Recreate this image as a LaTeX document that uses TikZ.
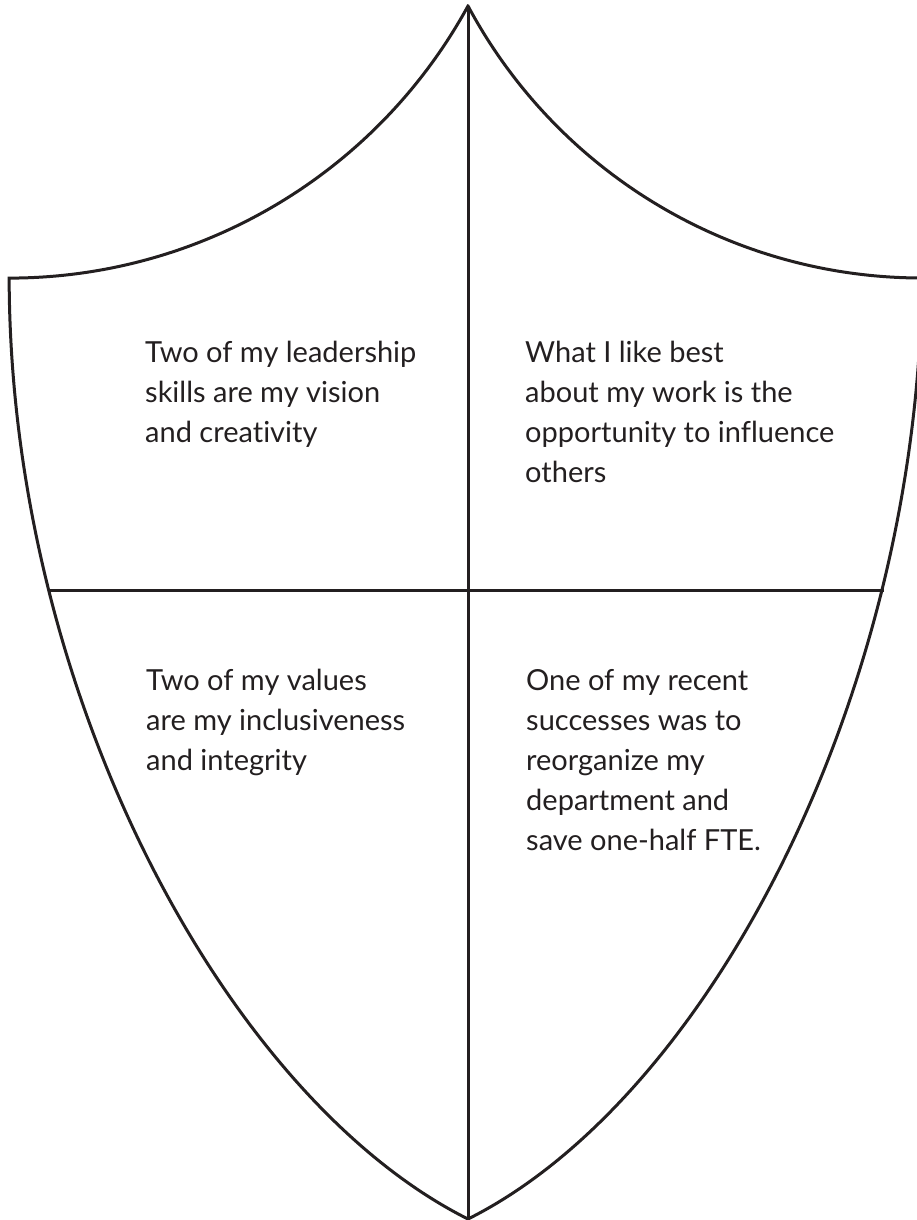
\documentclass[tikz,border=0pt]{standalone}
\usepackage{fontspec}
\setmainfont{Lato}[Ligatures={NoCommon}]
\definecolor{ink}{HTML}{231F20}
\newcommand{\quadtext}[2]{\parbox[t]{#1}{\fontsize{29pt}{40pt}\selectfont\raggedright #2}}
\begin{document}
\begin{tikzpicture}[x=1pt,y=-1pt,
  edge/.style={draw=ink,line width=3pt,line join=miter},
  divider/.style={draw=ink,line width=3pt},
  quad/.style={anchor=base west,inner sep=0pt,text=ink}]
\useasboundingbox (0,0) rectangle (917,1220);
\clip (0,0) rectangle (917,1220);
\coordinate (apex) at (468,6);
\coordinate (tip) at (468,1219);
\coordinate (lc) at (9,278);
\coordinate (rc) at (922,278);
\coordinate (ml) at (50,590);
\coordinate (mr) at (884,590);
\draw[edge] (apex) arc[start angle=28.67,end angle=90,radius=523]
  .. controls (10,700) and (230,1100) .. (tip)
  .. controls (706,1100) and (918,700) .. (rc)
  arc[start angle=90,end angle=151.85,radius=514.9] -- cycle;
\draw[divider] (apex) -- (tip);
\draw[divider] (ml) -- (mr);
\node[quad] (tl) at (145,362) {\quadtext{330pt}{Two of my leadership\\skills are my vision\\and creativity}};
\node[quad] (tr) at (525,362) {\quadtext{370pt}{What I like best\\about my work is the\\opportunity to influence\\others}};
\node[quad] (bl) at (146,690) {\quadtext{330pt}{Two of my values\\are my inclusiveness\\and integrity}};
\node[quad] (br) at (526,690) {\quadtext{330pt}{One of my recent\\successes was to\\reorganize my\\department and\\save one-half FTE.}};
\end{tikzpicture}
\end{document}
